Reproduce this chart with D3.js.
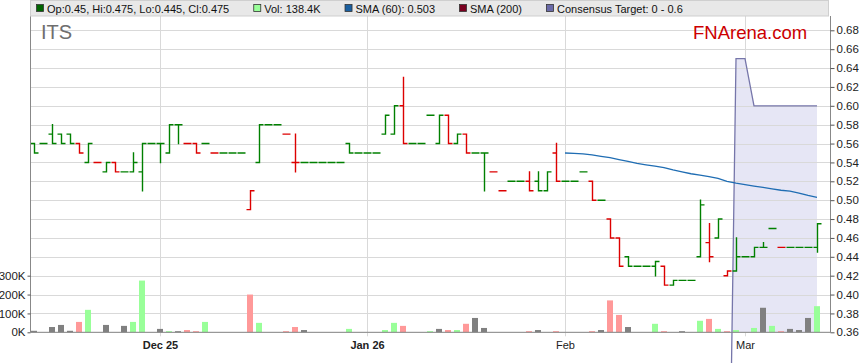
<!DOCTYPE html>
<html>
<head>
<meta charset="utf-8">
<script src="https://cdn.jsdelivr.net/npm/d3@7"></script>
<style>
body { margin: 0; background: #fff; }
text { font-family: "Liberation Sans", Arial, sans-serif; }
</style>
</head>
<body>
<svg width="859" height="363"></svg>
<script>
// one entry per trading slot, mid Nov 2025 -> mid Mar 2026
const openP = [0.56,0.56,0.57,0.57,0.57,0.56,0.54,0.54,0.53,0.54,
  0.53,0.53,0.53,0.56,0.56,0.55,0.58,0.56,0.56,0.56,
  0.55,0.55,0.55,0.55,0.49,0.54,0.58,0.58,0.57,0.54,
  0.54,0.54,0.54,0.54,0.54,0.56,0.55,0.55,0.55,0.57,
  0.57,0.60,0.56,0.56,0.59,0.56,0.59,0.56,0.57,0.55,
  0.55,0.53,0.51,0.52,0.52,0.52,0.52,0.51,0.55,0.52,
  0.52,0.53,0.52,0.50,0.48,0.46,0.44,0.43,0.43,0.43,
  0.43,0.41,0.415,0.415,0.44,0.455,0.46,0.42,0.425,0.44,
  0.44,0.45,0.47,0.45,0.45,0.45,0.45,0.45];
const highP = [0.56,0.56,0.58,0.57,0.57,0.56,0.56,0.54,0.54,0.54,
  0.53,0.55,0.56,0.56,0.56,0.58,0.58,0.56,0.56,0.56,
  0.55,0.55,0.55,0.55,0.51,0.58,0.58,0.58,0.57,0.57,
  0.54,0.54,0.54,0.54,0.54,0.56,0.55,0.55,0.55,0.59,
  0.60,0.63,0.56,0.56,0.59,0.59,0.59,0.57,0.57,0.55,
  0.55,0.53,0.51,0.52,0.52,0.53,0.53,0.53,0.56,0.52,
  0.52,0.53,0.52,0.50,0.48,0.46,0.44,0.43,0.43,0.435,
  0.43,0.415,0.415,0.415,0.50,0.475,0.48,0.425,0.46,0.44,
  0.45,0.455,0.47,0.45,0.45,0.45,0.45,0.475];
const lowP = [0.55,0.56,0.56,0.56,0.56,0.55,0.54,0.54,0.53,0.53,
  0.53,0.53,0.51,0.56,0.54,0.55,0.56,0.56,0.55,0.56,
  0.55,0.55,0.55,0.55,0.49,0.54,0.58,0.58,0.57,0.53,
  0.54,0.54,0.54,0.54,0.54,0.55,0.55,0.55,0.55,0.57,
  0.57,0.56,0.56,0.56,0.59,0.56,0.56,0.56,0.55,0.55,
  0.51,0.53,0.51,0.52,0.52,0.51,0.51,0.51,0.52,0.52,
  0.52,0.53,0.50,0.50,0.46,0.43,0.43,0.43,0.43,0.42,
  0.41,0.41,0.415,0.415,0.44,0.435,0.46,0.42,0.425,0.44,
  0.44,0.45,0.47,0.45,0.45,0.45,0.45,0.445];
const closeP = [0.55,0.56,0.56,0.56,0.56,0.55,0.56,0.54,0.54,0.53,
  0.53,0.54,0.56,0.56,0.56,0.58,0.58,0.56,0.55,0.56,
  0.55,0.55,0.55,0.55,0.51,0.58,0.58,0.58,0.57,0.54,
  0.54,0.54,0.54,0.54,0.54,0.55,0.55,0.55,0.55,0.59,
  0.60,0.56,0.56,0.56,0.59,0.59,0.56,0.57,0.55,0.55,
  0.55,0.53,0.51,0.52,0.52,0.51,0.51,0.53,0.52,0.52,
  0.52,0.53,0.50,0.50,0.46,0.43,0.43,0.43,0.43,0.435,
  0.41,0.415,0.415,0.415,0.495,0.44,0.48,0.425,0.44,0.44,
  0.45,0.45,0.47,0.45,0.45,0.45,0.45,0.475];
// volume in thousands
const volK = [8,0,28,39,8,55,119,0,39,0,
  34,55,274,0,18,6,6,12,6,55,
  0,0,0,0,200,50,0,0,6,28,
  12,0,0,0,0,18,0,0,0,12,
  50,34,0,0,6,18,12,12,45,76,
  23,0,0,0,0,6,12,0,6,0,
  0,0,6,12,169,92,28,0,0,45,
  6,0,6,0,61,71,18,6,12,0,
  23,130,34,6,18,12,76,138.4];
const prevClose = 0.55; // close before the first slot

const smaStart = 59;
const sma60 = [0.550,0.5495,0.549,0.548,0.5465,0.545,0.543,0.541,0.539,0.5375,
  0.536,0.5345,0.532,0.530,0.528,0.5265,0.525,0.523,0.520,0.518,
  0.5165,0.515,0.5135,0.512,0.5105,0.5095,0.5075,0.505,0.503];

const targetStart = 77;
const consensus = [0, 0.65, 0.65, 0.60, 0.60, 0.60, 0.60, 0.60, 0.60, 0.60, 0.60];

const tickSlots = [14, 37, 59, 79];
const tickLabels = ["Dec 25", "Jan 26", "Feb", "Mar"];
const volTicks = [0, 100, 200, 300];

const upColor = "#008000", downColor = "#dd0000";
const volUp = "#99ff99", volDown = "#ff9999", volFlat = "#808080";

let svg = d3.select("svg");
const plotLeft = 30.5, plotRight = 830.5, plotTop = 16, plotBottom = 332.3;

const x = d3.scaleLinear().domain([0, openP.length - 1]).range([34, 817]);
const y = d3.scaleLinear().domain([0.36, 0.68]).range([plotBottom, 30.3]);
const yVol = d3.scaleLinear().domain([0, 300]).range([plotBottom, plotBottom - 3 * 18.875]);

svg.append("defs").append("clipPath").attr("id", "plotClip")
  .append("rect").attr("x", plotLeft).attr("y", plotTop)
  .attr("width", plotRight - plotLeft).attr("height", plotBottom - plotTop);

// vertical month gridlines
svg.append("g").selectAll("line").data(tickSlots).enter().append("line")
  .attr("x1", d => Math.round(x(d)) + 0.5).attr("x2", d => Math.round(x(d)) + 0.5)
  .attr("y1", plotTop).attr("y2", plotBottom + 4)
  .attr("stroke", "#d9d9d9");

// consensus target band
const tData = consensus.map((v, i) => [targetStart + i, v]);
svg.append("path")
  .datum(tData)
  .attr("clip-path", "url(#plotClip)")
  .attr("fill", "#e6e6f5")
  .attr("d", d3.area().x(d => x(d[0])).y0(y(0)).y1(d => y(d[1])));

// horizontal gridlines
svg.append("g").selectAll("line").data(y.ticks(16)).enter().append("line")
  .attr("x1", plotLeft).attr("x2", plotRight)
  .attr("y1", d => Math.round(y(d)) + 0.5).attr("y2", d => Math.round(y(d)) + 0.5)
  .attr("stroke", "#d9d9d9");

svg.append("path")
  .datum(tData)
  .attr("fill", "none")
  .attr("stroke", "#7676aa")
  .attr("stroke-width", 1.3)
  .attr("d", d3.line().x(d => x(d[0])).y(d => y(d[1])));

const bars = openP.map((o, i) => ({
  i: i, o: o, h: highP[i], l: lowP[i], c: closeP[i], v: volK[i],
  pc: i === 0 ? prevClose : closeP[i - 1]
}));

// volume
svg.append("g").selectAll("rect").data(bars.filter(d => d.v > 0)).enter().append("rect")
  .attr("x", d => x(d.i) - 3)
  .attr("width", 6)
  .attr("y", d => yVol(d.v))
  .attr("height", d => yVol(0) - yVol(d.v))
  .attr("fill", d => d.c > d.pc ? volUp : d.c < d.pc ? volDown : volFlat);

// OHLC
svg.append("g").selectAll("path").data(bars).enter().append("path")
  .attr("fill", "none")
  .attr("stroke-width", 1.4)
  .attr("stroke", d => d.c >= d.pc ? upColor : downColor)
  .attr("d", d => {
    const cx = x(d.i) + 0.5;
    return "M" + (cx - 4) + "," + y(d.o) + "H" + cx +
      "M" + cx + "," + (y(d.h) - 0.7) + "V" + (y(d.l) + 0.7) +
      "M" + cx + "," + y(d.c) + "H" + (cx + 4);
  });

// SMA 60
svg.append("path")
  .datum(sma60.map((v, i) => [smaStart + i, v]))
  .attr("fill", "none")
  .attr("stroke", "#1f6db3")
  .attr("stroke-width", 1.3)
  .attr("d", d3.line().x(d => x(d[0])).y(d => y(d[1])));

// axes
svg.append("line").attr("x1", plotLeft).attr("x2", plotLeft).attr("y1", 0).attr("y2", plotBottom)
  .attr("stroke", "#888");
svg.append("line").attr("x1", plotLeft).attr("x2", plotRight).attr("y1", plotBottom).attr("y2", plotBottom)
  .attr("stroke", "#888");

let rAxis = svg.append("g")
  .attr("transform", "translate(" + plotRight + ",0)")
  .call(d3.axisRight(y).tickValues(y.ticks(16)).tickFormat(d3.format(".2f")).tickSize(4).tickPadding(2));
rAxis.select(".domain").attr("stroke", "#888").attr("d", "M0," + plotTop + "V" + plotBottom);
rAxis.selectAll(".tick line").attr("stroke", "#555");
rAxis.selectAll("text").attr("font-size", 11.5).attr("fill", "#222").style("font-family", "Liberation Sans, Arial, sans-serif");

let lAxis = svg.append("g")
  .attr("transform", "translate(" + plotLeft + ",0)")
  .call(d3.axisLeft(yVol).tickValues(volTicks).tickFormat(d => d + "K").tickSize(3).tickPadding(2));
lAxis.select(".domain").remove();
lAxis.selectAll(".tick line").attr("stroke", "#555");
lAxis.selectAll("text").attr("font-size", 11.5).attr("fill", "#222").style("font-family", "Liberation Sans, Arial, sans-serif");

let bAxis = svg.append("g")
  .attr("transform", "translate(0," + plotBottom + ")")
  .call(d3.axisBottom(x).tickValues(tickSlots).tickFormat((d, i) => tickLabels[i]).tickSize(0).tickPadding(9));
bAxis.select(".domain").remove();
bAxis.selectAll("text")
  .attr("font-size", 11).attr("fill", "#222")
  .attr("font-weight", (d, i) => /\d/.test(tickLabels[i]) ? "bold" : "normal")
  .style("font-family", "Liberation Sans, Arial, sans-serif");

// legend strip
svg.append("rect").attr("x", plotLeft).attr("y", 0.5).attr("width", plotRight - plotLeft - 2).attr("height", 15.5)
  .attr("fill", "#e8e8e8").attr("stroke", "#cfcfcf");

const last = bars[bars.length - 1];
const legendItems = [
  {label: "Op:" + last.o + ", Hi:" + last.h + ", Lo:" + last.l + ", Cl:" + last.c, color: "#006400"},
  {label: "Vol: " + last.v + "K", color: volUp},
  {label: "SMA (60): " + sma60[sma60.length - 1], color: "#1a5fa0"},
  {label: "SMA (200)", color: "#7a0020"},
  {label: "Consensus Target: " + d3.min(consensus) + " - " + consensus[consensus.length - 1], color: "#6a6aa8"}
];
let lx = 36;
legendItems.forEach(item => {
  svg.append("rect").attr("x", lx + 0.5).attr("y", 4.5).attr("width", 7).attr("height", 7)
    .attr("fill", item.color).attr("stroke", "#333").attr("stroke-width", 0.8);
  let t = svg.append("text").attr("x", lx + 11).attr("y", 12.5)
    .attr("font-size", 11).attr("fill", "#111").text(item.label);
  lx += 11 + t.node().getComputedTextLength() + 24;
});

svg.append("text").attr("x", 41).attr("y", 39).attr("font-size", 20).attr("fill", "#6e6e6e").text("ITS");
svg.append("text").attr("x", 693).attr("y", 39).attr("font-size", 18.5).attr("fill", "#cc0000").text("FNArena.com");
</script>
</body>
</html>
